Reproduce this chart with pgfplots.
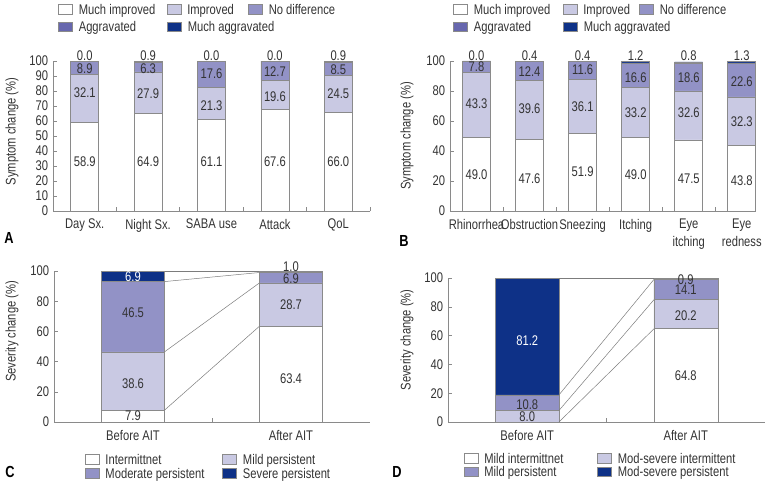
\documentclass[border=0pt]{standalone}
\usepackage{fontspec}
\setmainfont{Liberation Sans}[FakeStretch=0.8]
\usepackage{pgfplots}
\usepackage{pgfplotstable}
\pgfplotsset{compat=1.18}
\definecolor{cimp}{HTML}{C9C9E3}
\definecolor{cnd}{HTML}{9292C6}
\definecolor{cagg}{HTML}{6767AE}
\definecolor{cmagg}{HTML}{0E3187}
\definecolor{axgray}{HTML}{8A8A8A}
\definecolor{labcol}{HTML}{333333}

% ---------- Panel A data ----------
\pgfplotstableread{
x mi imp nd agg magg
0 58.9 32.1 8.9 0 0.0
1 64.9 27.9 6.3 0 0.9
2 61.1 21.3 17.6 0 0.0
3 67.6 19.6 12.7 0 0.0
4 66.0 24.5 8.5 0 0.9
}\tblA
\pgfplotstableread{
x y lab
0 32.7 58.9
0 78.7 32.1
0 94.7 8.9
1 32.7 64.9
1 78.4 27.9
1 95.1 6.3
2 32.7 61.1
2 70.0 21.3
2 91.8 17.6
3 32.7 67.6
3 76.2 19.6
3 92.9 12.7
4 32.7 66.0
4 78.4 24.5
4 94.5 8.5
}\labA
\pgfplotstableread{
x y lab
0 100.6 0.0
1 100.6 0.9
2 100.6 0.0
3 100.6 0.0
4 100.6 0.9
}\topA
% ---------- Panel B data ----------
\pgfplotstableread{
x mi imp nd agg magg
0 49.0 43.3 7.8 0 0.0
1 47.6 39.6 12.4 0 0.4
2 51.9 36.1 11.6 0 0.4
3 49.0 33.2 16.6 0 1.2
4 47.5 32.6 18.6 0 0.8
5 43.8 32.3 22.6 0 1.3
}\tblB
\pgfplotstableread{
x y lab
0 24.0 49.0
0 71.8 43.3
0 96.2 7.8
1 21.3 47.6
1 68.4 39.6
1 92.9 12.4
2 26.2 51.9
2 69.6 36.1
2 94.0 11.6
3 24.0 49.0
3 65.8 33.2
3 88.9 16.6
4 21.3 47.5
4 65.8 32.6
4 88.9 18.6
5 20.2 43.8
5 59.5 32.3
5 86.2 22.6
}\labB
\pgfplotstableread{
x y lab
0 100.6 0.0
1 100.6 0.4
2 100.6 0.4
3 100.6 1.2
4 100.6 0.8
5 100.6 1.3
}\topB
% ---------- Panel C data ----------
\pgfplotstableread{
x int mild mod sev
0 7.9 38.6 46.5 6.9
1 63.4 28.7 6.9 1.0
}\tblC
\pgfplotstableread{
x y lab
0 4.2 7.9
0 25.6 38.6
0 72.4 46.5
1 28.9 63.4
1 77.5 28.7
1 95.2 6.9
1 102.8 1.0
}\labC
\pgfplotstableread{
x y lab
0 96.2 6.9
}\whC
% ---------- Panel D data ----------
\pgfplotstableread{
x mi msi mp msp
0 0 8.0 10.8 81.2
1 64.8 20.2 14.1 0.9
}\tblD
\pgfplotstableread{
x y lab
0 3.7 8.0
0 12.3 10.8
1 32.2 64.8
1 73.8 20.2
1 91.7 14.1
1 98.5 0.9
}\labD
\pgfplotstableread{
x y lab
0 56.2 81.2
}\whD

\pgfplotsset{
  panel/.style={
    scale only axis, anchor=south west, clip=false,
    ymin=0, ymax=100, xmin=-0.5,
    axis lines=left,
    axis line style={draw=axgray, line width=0.6bp, -},
    tick align=inside,
    tick style={draw=axgray, line width=0.6bp},
    major tick length=4bp,
    /pgf/number format/assume math mode=true,
    tick label style={text=labcol},
    xticklabels={},
    extra x tick style={major tick length=0pt},
    xticklabel style={yshift=-3bp},
    ylabel style={text=labcol},
    legend cell align=left,
  },
  leg/.style={legend style={draw=none, fill=none, inner sep=0pt, outer sep=0pt,
      nodes={inner sep=0pt, text=labcol},
      /tikz/every odd column/.append style={column sep=6bp}}},
  ovl/.style={panel, hide axis},
  lab/.style={draw=none, mark=none, nodes near coords, point meta=explicit symbolic,
     every node near coord/.append style={anchor=center, inner sep=0pt, text=labcol}},
  wlab/.style={draw=none, mark=none, nodes near coords, point meta=explicit symbolic,
     every node near coord/.append style={anchor=center, inner sep=0pt, text=white}},
  tlab/.style={draw=none, mark=none, nodes near coords, point meta=explicit symbolic,
     every node near coord/.append style={anchor=base, inner sep=0pt, text=labcol}},
  seg/.style={fill=#1, draw=axgray, line width=0.5bp,
     legend image code/.code={\draw[fill=#1, draw=axgray, line width=0.5bp] (0bp,-3.5bp) rectangle (14bp,5.9bp);}},
  conn/.style={draw=axgray!90!black, line width=0.5bp, mark=none},
}

\begin{document}
\fontsize{14bp}{16bp}\selectfont
\begin{tikzpicture}[font=\fontsize{14bp}{16bp}\selectfont]
\path[use as bounding box] (0,0) rectangle (770bp,-482bp);

% ================= Panel A =================
\begin{axis}[panel, leg, at={(53bp,-211bp)}, width=317bp, height=150bp,
  xmax=4.5, ybar stacked, bar width=28bp,
  ytick={0,10,...,100},
  xtick={0.5,1.5,2.5,3.5,4.5},
  extra x ticks={0,1,2,3,4},
  extra x tick labels={Day Sx.,Night Sx.,SABA use,Attack,QoL},
  ylabel={Symptom change (\%)},
  ylabel style={at={(axis description cs:-0.129,0.53)}, anchor=center},
  legend columns=3,
  legend style={at={(axis description cs:0.0167,1.377)}, anchor=north west, row sep=5bp},
]
\addplot[seg=white] table[x=x,y=mi]{\tblA};
\addlegendentry{\makebox[88bp][l]{Much improved}}
\addplot[seg=cimp] table[x=x,y=imp]{\tblA};
\addlegendentry{\makebox[61bp][l]{Improved}}
\addplot[seg=cnd] table[x=x,y=nd]{\tblA};
\addlegendentry{No difference}
\addplot[seg=cagg] table[x=x,y=agg]{\tblA};
\addlegendentry{\makebox[88bp][l]{Aggravated}}
\addplot[seg=cmagg] table[x=x,y=magg]{\tblA};
\addlegendentry{\makebox[0pt][l]{Much aggravated}}
\end{axis}
\begin{axis}[ovl, at={(53bp,-211bp)}, width=317bp, height=150bp, xmax=4.5]
\addplot[lab] table[x=x,y=y,meta=lab]{\labA};
\addplot[tlab] table[x=x,y=y,meta=lab]{\topA};
\end{axis}

% ================= Panel B =================
\begin{axis}[panel, leg, at={(450bp,-211bp)}, width=305bp, height=150bp,
  xmax=5.25, ybar stacked, bar width=28bp,
  ytick={0,20,...,100},
  xtick={0.5,1.5,2.5,3.5,4.5},
  extra x ticks={0,1,2,3,4,5},
  extra x tick labels={Rhinorrhea,Obstruction,Sneezing,Itching,{Eye\\itching},{Eye\\redness}},
  xticklabel style={align=center, font=\fontsize{14bp}{18bp}\selectfont},
  ylabel={Symptom change (\%)},
  ylabel style={at={(axis description cs:-0.141,0.5)}, anchor=center},
  legend columns=3,
  legend style={at={(axis description cs:0.011,1.377)}, anchor=north west, row sep=5bp},
]
\addplot[seg=white] table[x=x,y=mi]{\tblB};
\addlegendentry{\makebox[89bp][l]{Much improved}}
\addplot[seg=cimp] table[x=x,y=imp]{\tblB};
\addlegendentry{\makebox[56bp][l]{Improved}}
\addplot[seg=cnd] table[x=x,y=nd]{\tblB};
\addlegendentry{No difference}
\addplot[seg=cagg] table[x=x,y=agg]{\tblB};
\addlegendentry{\makebox[89bp][l]{Aggravated}}
\addplot[seg=cmagg] table[x=x,y=magg]{\tblB};
\addlegendentry{\makebox[0pt][l]{Much aggravated}}
\end{axis}
\begin{axis}[ovl, at={(450bp,-211bp)}, width=305bp, height=150bp, xmax=5.25]
\addplot[lab] table[x=x,y=y,meta=lab]{\labB};
\addplot[tlab] table[x=x,y=y,meta=lab]{\topB};
\end{axis}

% ================= Panel C =================
\begin{axis}[panel, leg, at={(54bp,-422bp)}, width=316bp, height=151bp,
  xmax=1.5, ybar stacked, bar width=63bp,
  ytick={0,20,...,100},
  xtick={0.5},
  extra x ticks={0,1},
  extra x tick labels={Before AIT,After AIT},
  ylabel={Severity change (\%)},
  ylabel style={at={(axis description cs:-0.133,0.6)}, anchor=center},
  legend columns=2,
  legend style={at={(axis description cs:0.098,-0.213)}, anchor=north west, row sep=2bp},
]
\addplot[seg=white] table[x=x,y=int]{\tblC};
\addlegendentry{\makebox[117bp][l]{Intermittnet}}
\addplot[seg=cimp] table[x=x,y=mild]{\tblC};
\addlegendentry{Mild persistent}
\addplot[seg=cnd] table[x=x,y=mod]{\tblC};
\addlegendentry{\makebox[117bp][l]{Moderate persistent}}
\addplot[seg=cmagg] table[x=x,y=sev]{\tblC};
\addlegendentry{Severe persistent}
\end{axis}
\begin{axis}[ovl, at={(54bp,-422bp)}, width=316bp, height=151bp, xmax=1.5]
\addplot[conn] coordinates {(0.2,7.9) (0.8,63.4)};
\addplot[conn] coordinates {(0.2,46.5) (0.8,92.1)};
\addplot[conn] coordinates {(0.2,93.0) (0.8,99.0)};
\addplot[conn] coordinates {(0.2,100) (0.8,100)};
\addplot[lab] table[x=x,y=y,meta=lab]{\labC};
\addplot[wlab] table[x=x,y=y,meta=lab]{\whC};
\end{axis}

% ================= Panel D =================
\begin{axis}[panel, leg, at={(448bp,-422bp)}, width=317bp, height=144bp,
  xmax=1.5, ybar stacked, bar width=64bp,
  ytick={0,20,...,100},
  xtick={0.5},
  extra x ticks={0,1},
  extra x tick labels={Before AIT,After AIT},
  ylabel={Severity change (\%)},
  ylabel style={at={(axis description cs:-0.129,0.57)}, anchor=center},
  legend columns=2,
  legend style={at={(axis description cs:0.05,-0.217)}, anchor=north west, row sep=1bp},
]
\addplot[seg=white] table[x=x,y=mi]{\tblD};
\addlegendentry{\makebox[113bp][l]{Mild intermittnet}}
\addplot[seg=cimp] table[x=x,y=msi]{\tblD};
\addlegendentry{Mod-severe intermittent}
\addplot[seg=cnd] table[x=x,y=mp]{\tblD};
\addlegendentry{\makebox[113bp][l]{Mild persistent}}
\addplot[seg=cmagg] table[x=x,y=msp]{\tblD};
\addlegendentry{Mod-severe persistent}
\end{axis}
\begin{axis}[ovl, at={(448bp,-422bp)}, width=317bp, height=144bp, xmax=1.5]
\addplot[conn] coordinates {(0.2,0) (0.8,64.8)};
\addplot[conn] coordinates {(0.2,8.0) (0.8,85.0)};
\addplot[conn] coordinates {(0.2,18.8) (0.8,99.1)};
\addplot[conn] coordinates {(0.2,100) (0.8,100)};
\addplot[lab] table[x=x,y=y,meta=lab]{\labD};
\addplot[wlab] table[x=x,y=y,meta=lab]{\whD};
\end{axis}

% panel letters
\node[font=\fontsize{16bp}{16bp}\selectfont\bfseries] at (9bp,-238bp) {A};
\node[font=\fontsize{16bp}{16bp}\selectfont\bfseries] at (404bp,-241bp) {B};
\node[font=\fontsize{16bp}{16bp}\selectfont\bfseries] at (10bp,-472bp) {C};
\node[font=\fontsize{16bp}{16bp}\selectfont\bfseries] at (397bp,-472bp) {D};
\end{tikzpicture}
\end{document}
